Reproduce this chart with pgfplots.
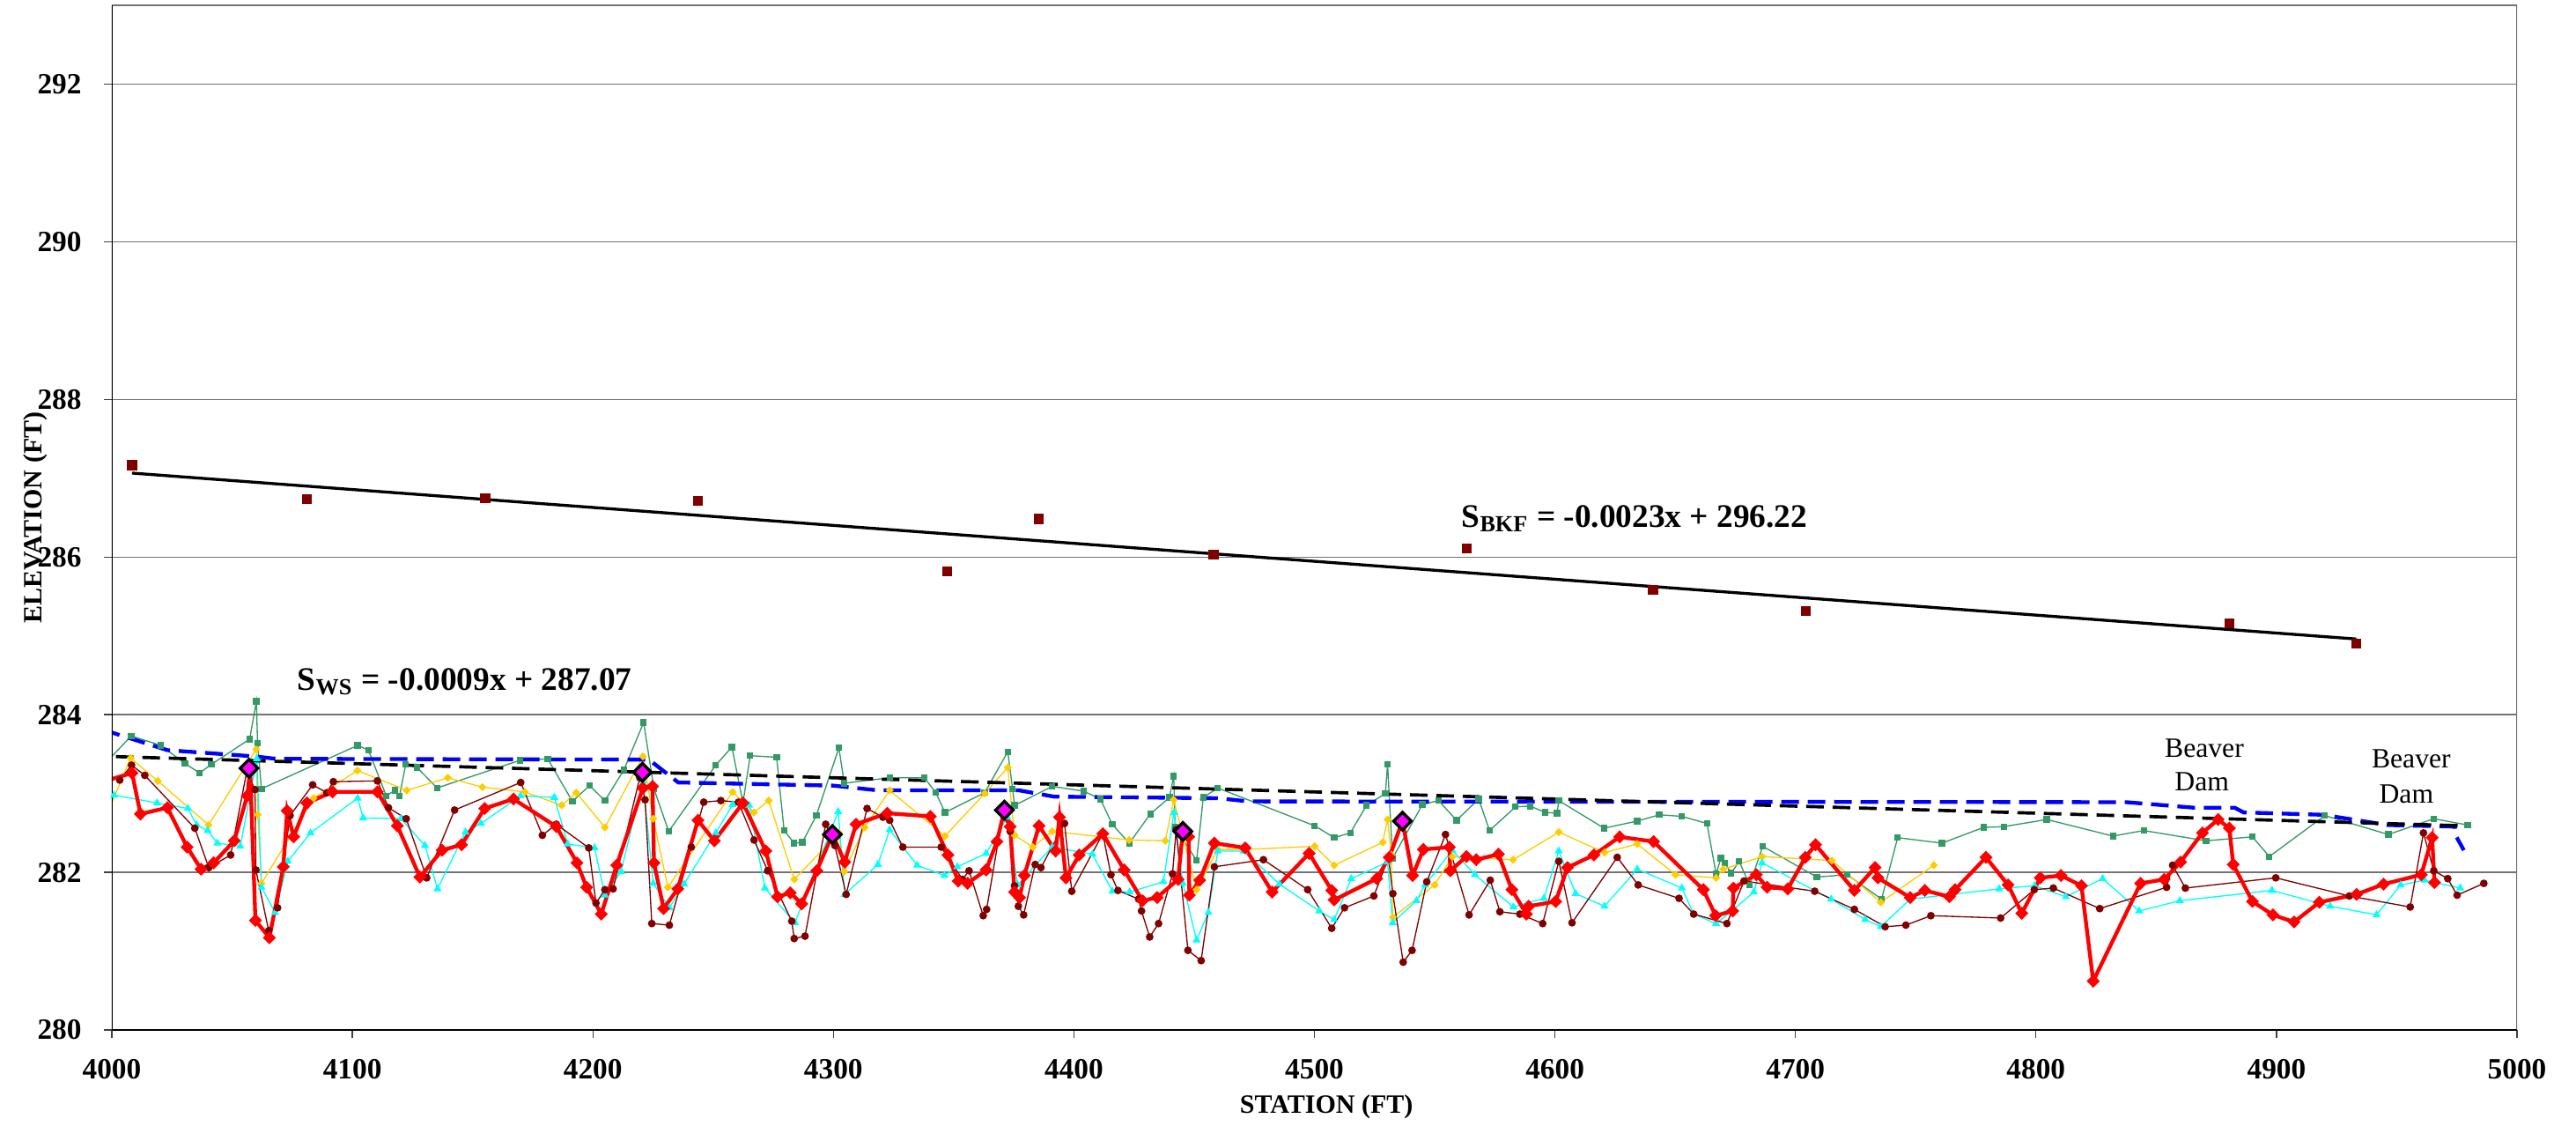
\documentclass[border=0pt]{standalone}
\usepackage{fontspec}
\setmainfont{Liberation Serif}
\usepackage{pgfplots}
\pgfplotsset{compat=1.18}

\definecolor{thalweg}{RGB}{255,0,0}
\definecolor{maroonc}{RGB}{128,0,0}
\definecolor{seagreen}{RGB}{51,153,102}
\definecolor{goldc}{RGB}{255,204,0}
\definecolor{cyanc}{RGB}{0,255,255}
\definecolor{bluec}{RGB}{0,0,255}
\definecolor{magc}{RGB}{255,0,255}

\begin{document}
\begin{tikzpicture}
\useasboundingbox (-38.1pt,-32.4pt) rectangle (839.4pt,350.7pt);
\begin{axis}[
  at={(0,0)}, anchor=south west,
  scale only axis, width=819.3pt, height=348.9pt,
  xmin=4000, xmax=5000, ymin=280, ymax=293,
  xtick={4000,4100,...,5000}, ytick={280,282,...,292},
  tick pos=left, tick align=outside, major tick length=2.8pt,
  tick style={black!75, line width=0.4pt},
  ymajorgrids, grid style={black!55, line width=0.4pt},
  axis line style={draw=none},
  /pgf/number format/assume math mode=true,
  /pgf/number format/1000 sep={},
  ticklabel style={font=\bfseries\fontsize{10}{12}\selectfont},
  xticklabel style={anchor=center, yshift=-10.6pt},
  yticklabel style={anchor=east, xshift=-4pt},
  xlabel={STATION (FT)}, ylabel={ELEVATION (FT)},
  every axis x label/.style={at={(axis description cs:0.505,-0.0748)}, anchor=center,
    font=\bfseries\fontsize{9}{11}\selectfont},
  every axis y label/.style={at={(axis description cs:-0.0317,0.5)}, anchor=center, rotate=90,
    font=\bfseries\fontsize{9}{11}\selectfont},
  clip=true,
]

% bankfull regression line
\addplot[black, line width=1pt] coordinates {(4008.4,287.065) (4933.2,284.96)};

% bankfull indicators
\addplot[only marks, mark=square*, mark size=1.5pt, mark options={fill=maroonc, draw=maroonc}] coordinates {
(4008.4,287.165) (4081.2,286.734) (4155.2,286.745) (4243.7,286.711)
(4347.4,285.818) (4385.3,286.484) (4458.1,286.03) (4563.3,286.112)
(4640.8,285.583) (4704.3,285.315) (4880.4,285.162) (4933.2,284.905)};

% left bank / top of bank profile
\addplot[seagreen, line width=0.4pt, mark=square*, mark size=0.9pt, mark options={fill=seagreen, draw=seagreen}] coordinates {
(3996.2,283.35) (4008.1,283.73) (4020.4,283.61) (4030.4,283.38) (4036.5,283.26)
(4041.4,283.37) (4057.3,283.69) (4060.1,284.17) (4060.6,283.64) (4062.2,283.06)
(4102.2,283.61) (4106.7,283.55) (4114.1,282.97) (4117.7,283.04) (4119.6,282.97)
(4122.2,283.37) (4126.9,283.33) (4135.2,283.07) (4169.6,283.42) (4181.2,283.44)
(4191.5,282.90) (4198.6,283.10) (4205.0,282.91) (4212.9,283.30) (4221.1,283.90)
(4225.4,283.06) (4231.5,282.52) (4251.1,283.36) (4257.8,283.59) (4262.4,282.88)
(4265.4,283.48) (4276.4,283.46) (4279.5,282.53) (4283.7,282.37) (4287.1,282.38)
(4292.9,282.72) (4302.3,283.58) (4304.5,283.13) (4323.4,283.20) (4337.8,283.20)
(4342.6,283.01) (4346.4,282.76) (4362.9,283.01) (4372.5,283.53) (4374.5,283.06)
(4375.3,282.85) (4391.0,283.09) (4404.0,283.03) (4411.0,282.93) (4415.9,282.61)
(4423.0,282.37) (4431.8,282.74) (4439.7,282.95) (4441.5,283.22) (4442.1,282.57)
(4451.0,282.15) (4453.8,282.95) (4459.8,283.07) (4500.1,282.59) (4508.2,282.44)
(4514.9,282.50) (4521.7,282.85) (4529.5,283.00) (4530.4,283.37) (4532.5,282.18)
(4544.9,282.86) (4551.6,282.91) (4559.1,282.66) (4568.3,282.93) (4572.8,282.53)
(4583.6,282.83) (4589.7,282.84) (4596.0,282.76) (4600.9,282.75) (4601.6,282.91)
(4620.4,282.56) (4634.2,282.65) (4643.4,282.73) (4652.8,282.71) (4663.2,282.62)
(4667.0,281.98) (4669.0,282.18) (4670.6,282.12) (4673.3,281.99) (4676.6,282.14)
(4680.9,281.84) (4686.4,282.33) (4708.9,281.94) (4721.5,281.97) (4735.8,281.66)
(4742.5,282.44) (4760.9,282.37) (4778.2,282.57) (4786.6,282.58) (4804.5,282.67)
(4832.0,282.46) (4844.8,282.53) (4870.7,282.40) (4890.0,282.45) (4897.0,282.20)
(4920.1,282.72) (4946.5,282.48) (4965.4,282.68) (4979.5,282.60)};

% left edge of water
\addplot[goldc, line width=0.4pt, mark=diamond*, mark size=1.1pt, mark options={fill=goldc, draw=goldc, xscale=1.33}] coordinates {
(3996.2,282.61) (4007.8,283.45) (4019.1,283.16) (4040.2,282.60) (4060.0,283.56)
(4060.7,282.73) (4062.2,281.86) (4083.9,282.94) (4102.1,283.29) (4122.6,283.04)
(4139.7,283.20) (4154.1,283.08) (4171.7,283.02) (4187.0,282.85) (4193.1,283.01)
(4205.0,282.57) (4220.8,283.47) (4225.1,282.68) (4231.2,281.81) (4258.1,283.02)
(4267.0,282.76) (4273.1,282.91) (4283.7,281.91) (4302.3,282.50) (4304.5,282.01)
(4313.0,282.57) (4323.4,283.04) (4346.4,282.46) (4362.9,283.00) (4372.5,283.33)
(4375.3,282.47) (4382.9,282.32) (4391.0,282.52) (4423.0,282.41) (4438.0,282.40)
(4441.5,282.92) (4451.0,281.78) (4459.8,282.29) (4470.9,282.29) (4500.1,282.33)
(4508.2,282.09) (4528.4,282.38) (4530.4,282.67) (4532.0,282.22) (4532.6,281.43)
(4550.0,281.84) (4557.3,282.20) (4582.6,282.16) (4601.6,282.51) (4620.6,282.25)
(4634.2,282.36) (4650.1,281.97) (4667.0,281.93) (4670.0,282.04) (4686.1,282.20)
(4715.1,282.15) (4735.5,281.62) (4757.5,282.09)};

% right edge of water
\addplot[cyanc, line width=0.4pt, mark=triangle*, mark size=1.2pt, mark options={fill=cyanc, draw=cyanc}] coordinates {
(3996.2,282.75) (4000.9,282.98) (4018.8,282.88) (4031.6,282.81) (4035.3,282.60)
(4039.8,282.53) (4043.9,282.37) (4053.4,282.33) (4060.3,283.44) (4062.2,281.81)
(4067.9,281.49) (4073.2,282.14) (4082.6,282.50) (4102.2,282.94) (4104.5,282.69)
(4120.2,282.68) (4130.2,282.34) (4135.4,281.79) (4147.0,282.51) (4153.5,282.62)
(4169.9,282.97) (4184.0,282.95) (4189.5,282.36) (4200.7,282.31) (4205.0,281.71)
(4211.7,282.01) (4220.8,283.16) (4225.1,281.86) (4231.8,281.55) (4237.9,281.85)
(4251.1,282.50) (4258.1,282.86) (4265.0,282.85) (4271.5,281.80) (4284.0,281.36)
(4302.0,282.77) (4304.7,281.72) (4318.5,282.10) (4323.4,282.54) (4334.8,282.09)
(4346.2,281.96) (4351.5,282.07) (4363.5,282.24) (4372.3,282.70) (4376.6,281.84)
(4383.9,282.09) (4391.0,282.32) (4407.7,282.23) (4416.0,281.76) (4423.2,281.75)
(4437.2,281.88) (4441.6,282.76) (4445.3,281.86) (4451.0,281.14) (4455.9,281.49)
(4459.8,282.27) (4470.6,282.27) (4485.5,281.85) (4502.0,281.51) (4508.2,281.40)
(4515.3,281.92) (4530.4,282.13) (4532.5,281.36) (4542.4,281.64) (4546.0,281.84)
(4557.3,282.28) (4566.7,281.97) (4582.7,281.56) (4595.4,281.67) (4601.6,282.27)
(4608.6,281.73) (4620.6,281.57) (4634.2,282.04) (4652.8,281.80) (4657.7,281.47)
(4667.0,281.35) (4673.9,281.52) (4682.7,281.75) (4686.1,282.12) (4714.8,281.66)
(4729.0,281.40) (4735.5,281.31) (4747.7,281.66) (4784.7,281.79) (4799.4,281.83)
(4812.4,281.69) (4827.7,281.92) (4842.9,281.51) (4859.8,281.64) (4898.1,281.77)
(4922.3,281.57) (4941.6,281.46) (4951.6,281.84) (4961.6,281.90) (4976.4,281.80)};

% previous thalweg survey
\addplot[maroonc, line width=0.4pt, mark=*, mark size=1.1pt, mark options={fill=maroonc, draw=maroonc}] coordinates {
(4003.3,283.17) (4008.2,283.36) (4013.7,283.23) (4034.5,282.56) (4040.3,282.06)
(4049.4,282.22) (4056.1,283.28) (4059.5,283.05) (4059.9,282.03) (4065.2,281.26)
(4068.9,281.55) (4074.1,282.72) (4083.5,283.11) (4089.4,283.01) (4092.1,283.15)
(4110.4,283.16) (4115.0,282.82) (4122.4,282.68) (4130.9,281.93) (4142.5,282.79)
(4170.0,283.14) (4179.0,282.47) (4184.8,282.61) (4198.3,282.31) (4201.3,281.61)
(4205.0,281.78) (4208.4,281.79) (4219.5,283.20) (4221.7,282.92) (4224.5,281.35)
(4231.8,281.33) (4240.9,282.32) (4246.1,282.89) (4253.2,282.91) (4260.5,282.89)
(4267.0,282.41) (4272.7,282.02) (4282.7,281.38) (4283.7,281.16) (4288.2,281.19)
(4296.8,282.61) (4300.6,282.34) (4305.3,281.72) (4314.0,282.81) (4320.6,282.70)
(4323.4,282.66) (4328.9,282.32) (4344.8,282.32) (4353.7,281.91) (4356.4,282.02)
(4362.3,281.45) (4363.7,281.53) (4370.5,282.75) (4373.5,282.52) (4375.3,281.83)
(4376.9,281.57) (4379.1,281.46) (4383.9,282.10) (4386.3,282.06) (4396.1,282.62)
(4399.1,281.76) (4412.0,282.49) (4415.4,281.97) (4418.3,281.77) (4426.9,281.66)
(4428.1,281.51) (4431.5,281.18) (4435.2,281.35) (4441.0,281.98) (4442.5,282.54)
(4447.4,281.01) (4452.9,280.88) (4458.4,282.07) (4478.8,282.16) (4497.2,281.78)
(4507.2,281.29) (4512.5,281.55) (4524.7,281.70) (4530.8,282.19) (4532.6,281.73)
(4536.9,280.86) (4540.6,281.01) (4546.7,281.88) (4554.5,282.48) (4564.3,281.46)
(4573.1,281.90) (4577.1,281.50) (4585.4,281.47) (4594.9,281.35) (4601.6,282.14)
(4607.1,281.36) (4625.9,282.19) (4634.6,281.84) (4651.6,281.67) (4657.7,281.47)
(4671.5,281.35) (4678.6,281.89) (4708.0,281.76) (4724.5,281.53) (4737.3,281.31)
(4745.9,281.33) (4756.3,281.45) (4785.3,281.42) (4799.3,281.78) (4807.2,281.80)
(4826.5,281.54) (4854.3,281.81) (4856.8,282.09) (4862.1,281.80) (4899.7,281.93)
(4930.3,281.70) (4955.6,281.56) (4961.1,282.50) (4965.4,282.02) (4971.2,281.92)
(4975.1,281.71) (4986.2,281.86)};

% thalweg
\addplot[thalweg, line width=1.3pt, mark=diamond*, mark size=1.8pt, mark options={fill=thalweg, draw=thalweg, line width=0.6pt, xscale=1.33}] coordinates {
(3996.2,283.15) (4008.4,283.26) (4011.9,282.74) (4023.1,282.82) (4031.3,282.32)
(4037.1,282.04) (4042.3,282.12) (4050.9,282.40) (4056.3,282.97) (4057.5,283.30)
(4059.7,281.39) (4065.5,281.17) (4071.3,282.07) (4072.9,282.78) (4075.6,282.45)
(4081.1,282.88) (4091.8,283.02) (4110.4,283.02) (4118.7,282.59) (4128.1,281.94)
(4137.3,282.28) (4145.4,282.35) (4155.0,282.81) (4167.0,282.93) (4184.8,282.58)
(4193.4,282.12) (4197.4,281.81) (4203.5,281.47) (4209.9,282.09) (4220.8,283.07)
(4224.8,283.09) (4225.4,282.12) (4229.4,281.54) (4235.3,281.79) (4243.7,282.66)
(4250.5,282.40) (4262.4,282.88) (4271.9,282.27) (4276.8,281.69) (4282.1,281.74)
(4286.8,281.60) (4293.1,282.02) (4299.6,282.48) (4304.7,282.13) (4309.4,282.61)
(4322.4,282.75) (4340.3,282.71) (4347.6,282.22) (4351.9,281.89) (4355.8,281.86)
(4363.5,282.03) (4368.0,282.39) (4371.1,282.79) (4373.5,282.58) (4375.3,281.75)
(4377.4,281.68) (4379.4,281.96) (4385.5,282.59) (4392.4,282.27) (4394.0,282.70)
(4396.7,281.93) (4402.2,282.22) (4412.0,282.49) (4420.9,282.03) (4428.5,281.64)
(4434.6,281.68) (4443.3,281.91) (4445.3,282.52) (4447.7,282.45) (4448.0,281.71)
(4452.3,281.90) (4458.4,282.37) (4471.2,282.31) (4482.4,281.75) (4497.8,282.24)
(4507.2,281.77) (4508.2,281.65) (4525.9,281.92) (4531.1,282.19) (4536.6,282.65)
(4540.8,281.96) (4545.3,282.29) (4556.1,282.32) (4556.5,282.02) (4563.2,282.20)
(4567.3,282.16) (4576.5,282.23) (4582.1,281.78) (4588.1,281.47) (4589.1,281.57)
(4600.3,281.63) (4605.2,282.06) (4616.2,282.22) (4626.9,282.45) (4641.0,282.39)
(4661.7,281.78) (4666.8,281.45) (4673.9,281.51) (4674.2,281.80) (4683.7,281.97)
(4688.2,281.81) (4696.8,281.79) (4704.1,282.19) (4708.3,282.35) (4724.5,281.77)
(4733.1,282.06) (4734.3,281.93) (4747.7,281.68) (4753.8,281.77) (4764.0,281.69)
(4766.4,281.78) (4779.2,282.19) (4788.4,281.84) (4794.1,281.48) (4801.8,281.93)
(4810.4,281.96) (4818.9,281.83) (4823.8,280.62) (4843.5,281.86) (4853.3,281.91)
(4860.1,282.13) (4869.2,282.50) (4875.7,282.67) (4880.4,282.56) (4882.0,282.10)
(4890.0,281.63) (4898.5,281.46) (4907.3,281.37) (4917.8,281.62) (4933.3,281.72)
(4944.5,281.85) (4960.2,281.97) (4964.7,282.44) (4965.7,281.87)};

% water surface
\addplot[bluec, line width=1.3pt, dash pattern=on 6pt off 3pt] coordinates {
(3996.2,283.81) (4023.1,283.55) (4059.7,283.47) (4068.3,283.44) (4223.3,283.43)
(4235.5,283.14) (4300.0,283.10) (4318.5,283.04) (4377.2,283.04) (4391.8,282.96)
(4460.2,282.94) (4472.4,282.90) (4837.5,282.89) (4865.6,282.82) (4882.6,282.82)
(4886.3,282.76) (4919.3,282.73) (4946.1,282.60) (4974.2,282.58) (4974.8,282.45)
(4977.9,282.28)};

% water surface regression line
\addplot[black, line width=1.1pt, dash pattern=on 6pt off 3pt] coordinates {(4001.7,283.468) (4978.0,282.590)};

% pool features
\addplot[only marks, mark=diamond*, mark size=3pt, mark options={fill=magc, draw=black, line width=1pt, xscale=1.33}] coordinates {
(4057.0,283.32) (4220.6,283.27) (4299.6,282.48) (4371.1,282.79) (4445.3,282.52) (4536.6,282.65)};

% plot area border
\draw[black!55, line width=0.8pt] (rel axis cs:0,1) -- (rel axis cs:1,1) -- (rel axis cs:1,0);
\draw[black, line width=0.6pt] (rel axis cs:0,0) -- (rel axis cs:0,1);
\draw[black, line width=0.9pt] (rel axis cs:0,0) -- (rel axis cs:1,0);

% annotations
\node[anchor=base west, font=\bfseries\fontsize{11.2}{13}\selectfont, inner sep=0pt] at (axis cs:4561,286.38) {S\textsubscript{BKF} = -0.0023x + 296.22};
\node[anchor=base west, font=\bfseries\fontsize{11.2}{13}\selectfont, inner sep=0pt] at (axis cs:4077,284.31) {S\textsubscript{WS} = -0.0009x + 287.07};
\node[anchor=base, font=\fontsize{9.5}{11}\selectfont, inner sep=0pt] at (axis cs:4870,283.46) {Beaver};
\node[anchor=base, font=\fontsize{9.5}{11}\selectfont, inner sep=0pt] at (axis cs:4869,283.03) {Dam};
\node[anchor=base, font=\fontsize{9.5}{11}\selectfont, inner sep=0pt] at (axis cs:4956,283.32) {Beaver};
\node[anchor=base, font=\fontsize{9.5}{11}\selectfont, inner sep=0pt] at (axis cs:4954,282.88) {Dam};
\end{axis}
\end{tikzpicture}
\end{document}
